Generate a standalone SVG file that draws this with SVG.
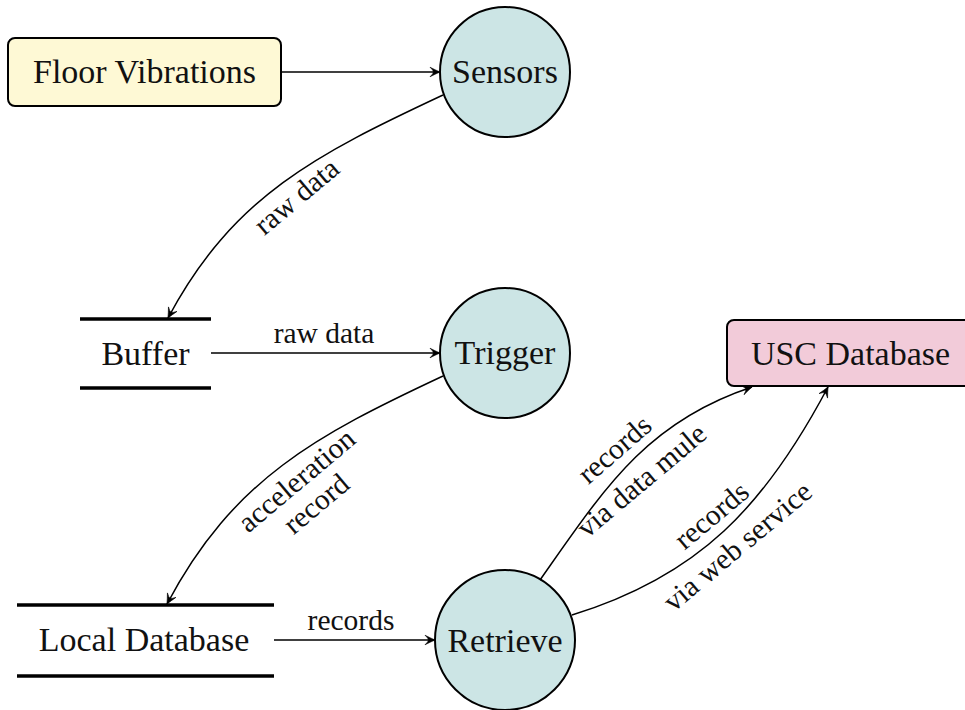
<svg xmlns="http://www.w3.org/2000/svg" width="965" height="710" viewBox="0 0 965 710">
<defs>
<style>
.lbl{font-family:"Liberation Serif","Times New Roman",serif;font-size:34px;fill:#111;text-anchor:middle}
.sm{font-family:"Liberation Serif","Times New Roman",serif;font-size:29.5px;fill:#111;text-anchor:middle}
.proc{fill:#cce5e5;stroke:#000;stroke-width:2}
.store{stroke:#000;stroke-width:3.5;fill:none}
.edge{fill:none;stroke:#000;stroke-width:1.5;marker-end:url(#arr)}
</style>
<marker id="arr" markerUnits="userSpaceOnUse" markerWidth="14" markerHeight="12" refX="12" refY="6" orient="auto" viewBox="0 0 14 12">
<path d="M12,6 Q7,3.8 2,1.2 Q5.5,4.5 5.5,6 Q5.5,7.5 2,10.8 Q7,8.2 12,6 Z" fill="#000" stroke="#000" stroke-width="0.6" stroke-linejoin="round"/>
</marker>
</defs>
<rect width="965" height="710" fill="#fff"/>

<g id="floor-vibrations">
<rect x="8" y="38" width="273" height="68" rx="7" fill="#fef9d5" stroke="#000" stroke-width="2"/>
<text class="lbl" x="144.5" y="83">Floor Vibrations</text>
</g>
<g id="sensors">
<circle class="proc" cx="505" cy="72" r="65"/>
<text class="lbl" x="505" y="83">Sensors</text>
</g>
<g id="buffer">
<line class="store" x1="80" y1="319" x2="211" y2="319"/>
<line class="store" x1="80" y1="388" x2="211" y2="388"/>
<text class="lbl" x="145.5" y="365">Buffer</text>
</g>
<g id="trigger">
<circle class="proc" cx="505" cy="353" r="65"/>
<text class="lbl" x="505" y="364">Trigger</text>
</g>
<g id="local-database">
<line class="store" x1="17" y1="605" x2="274" y2="605"/>
<line class="store" x1="17" y1="676" x2="274" y2="676"/>
<text class="lbl" x="144" y="651">Local Database</text>
</g>
<g id="retrieve">
<circle class="proc" cx="505" cy="640" r="70"/>
<text class="lbl" x="505" y="652">Retrieve</text>
</g>
<g id="usc-database">
<rect x="727" y="320" width="246" height="66" rx="7" fill="#f2cbd9" stroke="#000" stroke-width="2"/>
<text class="lbl" x="850.5" y="365">USC Database</text>
</g>

<g id="connectors">
<path class="edge" d="M281,72 L440,72"/>
<path class="edge" d="M443,95 C317,154 233,196 168,318"/>
<path class="edge" d="M211,353 L440,353"/>
<path class="edge" d="M443,376 C317,435 233,479 167,604"/>
<path class="edge" d="M274,640 L435,640"/>
<path class="edge" d="M540,580 C604,489 646,422 752,387"/>
<path class="edge" d="M572,615 C699,576 765,506 828,387"/>
<g id="edge-labels">
<text class="sm" transform="translate(297,197) rotate(-40)" y="9">raw data</text>
<text class="sm" x="324" y="343">raw data</text>
<text class="sm" transform="translate(297,481) rotate(-40)" y="9">acceleration</text>
<text class="sm" transform="translate(297,481) rotate(-40)" y="39.5">record</text>
<text class="sm" x="351" y="630">records</text>
<text class="sm" transform="translate(615,450) rotate(-41)" y="9">records</text>
<text class="sm" transform="translate(642,481) rotate(-40)" y="9">via data mule</text>
<text class="sm" transform="translate(712,516) rotate(-40)" y="9">records</text>
<text class="sm" transform="translate(738,547) rotate(-40)" y="9">via web service</text>
</g>
</g>
</svg>
